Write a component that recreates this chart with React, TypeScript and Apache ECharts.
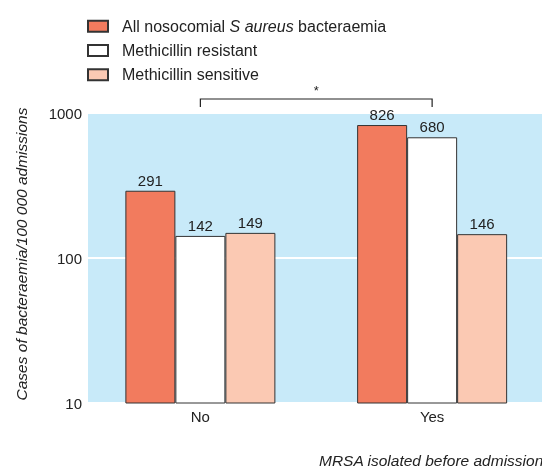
import React, { useEffect, useRef } from "react";
import * as echarts from "echarts";

const categories = ["No", "Yes"];
const allSA = [291, 826];
const resistant = [142, 680];
const sensitive = [149, 146];
const yTicks = [10, 100, 1000];

const FONT = "'Liberation Sans', Arial, Helvetica, sans-serif";

export default function App() {
  const ref = useRef<HTMLDivElement>(null);
  useEffect(() => {
    const chart = echarts.init(ref.current!, null, { renderer: "svg" });
    const label = {
      show: true,
      position: "top",
      distance: 3,
      fontSize: 15,
      color: "#222",
      fontFamily: FONT,
    };
    const mk = (name: string, data: number[], color: string) => ({
      name,
      type: "bar",
      data,
      barWidth: 50,
      barGap: "0%",
      itemStyle: { color, borderColor: "#333", borderWidth: 1 },
      label,
      z: 3,
    });
    const option: any = {
      animation: false,
      textStyle: { fontFamily: FONT },
      legend: {
        orient: "vertical",
        left: 87,
        top: 18.3,
        padding: 0,
        itemWidth: 20,
        itemHeight: 11,
        itemGap: 8.2,
        icon: "rect",
        textStyle: {
          fontSize: 16,
          lineHeight: 16,
          color: "#222",
          fontFamily: FONT,
          padding: [0, 0, 0, 9],
          rich: {
            n: { fontSize: 16, lineHeight: 16, color: "#222", fontFamily: FONT },
            i: { fontSize: 16, lineHeight: 16, color: "#222", fontFamily: FONT, fontStyle: "italic" },
          },
        },
        formatter: (n: string) =>
          n.startsWith("All")
            ? "{n|All nosocomial }{i|S aureus}{n| bacteraemia}"
            : "{n|" + n + "}",
        data: ["All nosocomial S aureus bacteraemia", "Methicillin resistant", "Methicillin sensitive"],
      },
      grid: {
        left: 84.5,
        width: 463.5,
        top: 113,
        bottom: 66,
        containLabel: false,
        outerBoundsMode: "none",
      },
      xAxis: {
        type: "category",
        data: categories,
        axisLine: { show: false },
        axisTick: { show: false },
        axisLabel: { fontSize: 15, color: "#222", margin: 6, fontFamily: FONT },
      },
      yAxis: {
        type: "log",
        logBase: 10,
        min: yTicks[0],
        max: yTicks[yTicks.length - 1],
        axisLine: { show: false },
        axisTick: { show: false },
        axisLabel: {
          fontSize: 15,
          color: "#222",
          margin: 2.5,
          fontFamily: FONT,
          formatter: (v: number) => String(Math.round(v)),
        },
        splitLine: { show: true, lineStyle: { color: "#fff", width: 2 } },
        name: "Cases of bacteraemia/100 000 admissions",
        nameLocation: "middle",
        nameGap: 55,
        nameTextStyle: {
          fontSize: 15.5,
          fontStyle: "italic",
          color: "#222",
          fontFamily: FONT,
          padding: [0, 0, 0, 8],
        },
      },
      graphic: [
        {
          type: "rect",
          z: -10,
          silent: true,
          shape: { x: 88, y: 113, width: 454, height: 290 },
          style: { fill: "#c8eaf9" },
        },
        {
          type: "text",
          x: 319,
          y: 460,
          style: {
            text: "MRSA isolated before admission",
            fontSize: 15.5,
            fontStyle: "italic",
            fill: "#222",
            fontFamily: FONT,
            verticalAlign: "middle",
            align: "left",
          },
        },
      ],
      series: [
        mk("All nosocomial S aureus bacteraemia", allSA, "#f27b5e"),
        mk("Methicillin resistant", resistant, "#ffffff"),
        mk("Methicillin sensitive", sensitive, "#fbc9b3"),
      ],
    };
    chart.setOption(option);
    const x0 = chart.convertToPixel({ xAxisIndex: 0 }, categories[0]) as number;
    const x1 = chart.convertToPixel({ xAxisIndex: 0 }, categories[1]) as number;
    const yTop = chart.convertToPixel({ yAxisIndex: 0 }, yTicks[yTicks.length - 1]) as number;
    chart.setOption({
      graphic: [
        option.graphic[0],
        option.graphic[1],
        {
          type: "polyline",
          shape: {
            points: [
              [x0, yTop - 6],
              [x0, yTop - 14],
              [x1, yTop - 14],
              [x1, yTop - 6],
            ],
          },
          style: { stroke: "#222", lineWidth: 1.2, fill: null },
        },
        {
          type: "text",
          x: (x0 + x1) / 2,
          y: yTop - 23,
          style: { text: "*", fontSize: 13, fill: "#222", align: "center", verticalAlign: "middle", fontFamily: FONT },
        },
      ],
    });
    return () => chart.dispose();
  }, []);
  return (
    <div
      ref={ref}
      style={{ position: "fixed", left: 0, top: 0, width: 542, height: 469 }}
    />
  );
}
